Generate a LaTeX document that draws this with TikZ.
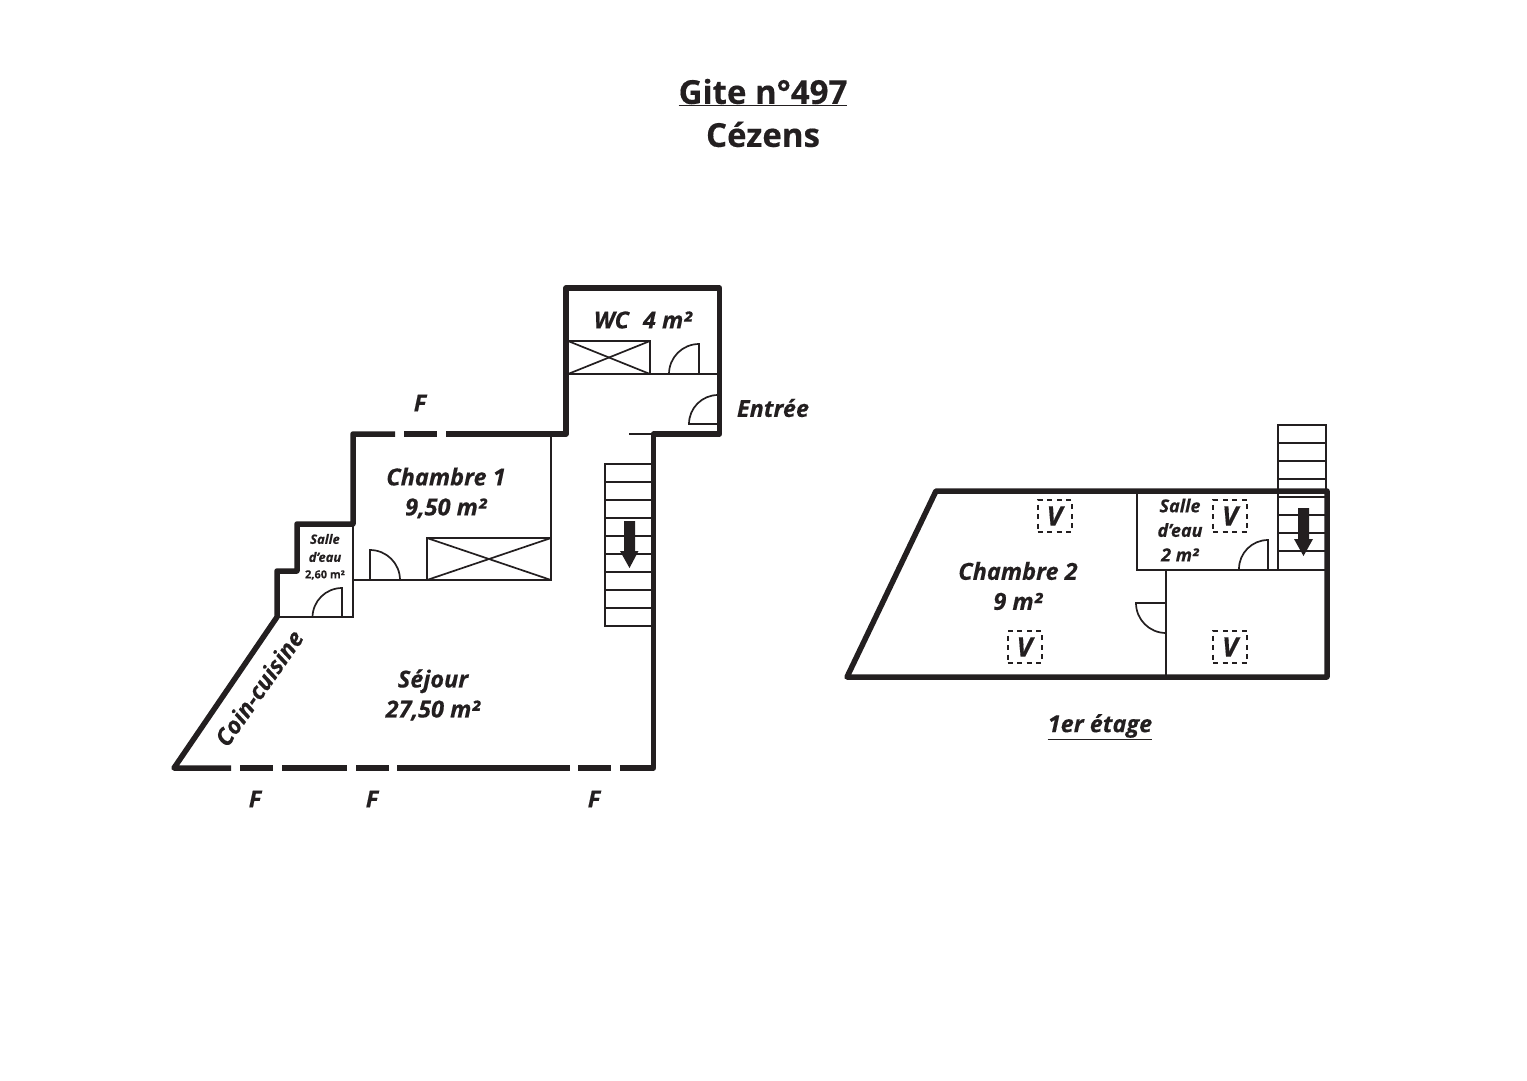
\documentclass[tikz,border=0pt]{standalone}
\usepackage{xcolor}
\usepackage{fontspec}
\setmainfont[BoldFeatures={FakeBold=0.35},BoldItalicFeatures={FakeBold=0.35}]{Open Sans}
\usetikzlibrary{arrows.meta}
\definecolor{ink}{HTML}{231F20}
\tikzset{
  wall/.style={draw=ink,line width=5.5pt,line join=round},
  pane/.style={draw=ink,line width=5.5pt},
  thin/.style={draw=ink,line width=1.7pt},
  vbox/.style={draw=ink,line width=2pt,dash pattern=on 5pt off 4.5pt,minimum width=34pt,minimum height=32pt,inner sep=0pt,text=ink,font=\fontsize{27}{27}\selectfont\bfseries\itshape},
  room/.style={text=ink,align=center,inner sep=0pt,font=\fontsize{23.5}{30}\selectfont\bfseries\itshape},
  smallroom/.style={text=ink,align=center,inner sep=0pt,font=\fontsize{13}{18}\selectfont\bfseries\itshape},
  title/.style={text=ink,align=center,inner sep=0pt,font=\fontsize{33}{43}\selectfont\bfseries},
  downarrow/.style={fill=ink,draw=none}
}

\begin{document}
\begin{tikzpicture}[x=1pt,y=-1pt]
\useasboundingbox (0,0) rectangle (1527,1080);

\node[title] (title) at (763,113) {\underline{Gite n°497}\\Cézens} ;

\draw[wall] (231,768) -- (174,768) -- (277,617) -- (277,571) -- (297,571) -- (297,524) -- (353,524) -- (353,434) -- (395,434) ;
\draw[wall] (446,434) -- (566,434) -- (566,288) -- (719.5,288) -- (719.5,434) -- (653.5,434) -- (653.5,768) -- (620,768) ;
\draw[pane] (404,434) -- (437,434) ;
\draw[pane] (578,768) -- (611,768) ;
\draw[pane] (397,768) -- (570,768) ;
\draw[pane] (282,768) -- (347,768) ;
\draw[pane] (356,768) -- (389,768) ;
\draw[pane] (240,768) -- (273,768) ;

\draw[thin] (353,524) -- (353,617) -- (277,617) ;
\draw[thin] (342,617) -- (342,588) arc (270:180:29.5) ;
\draw[thin] (353,580) -- (551,580) -- (551,434) ;
\draw[thin] (370,580) -- (370,550) arc (270:360:30) ;
\draw[thin] (427,580) rectangle (551,538) ;
\draw[thin] (427,580) -- (551,538) ;
\draw[thin] (427,538) -- (551,580) ;

\draw[thin] (566,374) -- (718,374) ;
\draw[thin] (568,341) rectangle (650,374) ;
\draw[thin] (568,341) -- (650,374) ;
\draw[thin] (568,374) -- (650,341) ;
\draw[thin] (699,374) -- (699,344) arc (270:180:30) ;
\draw[thin] (717,424) -- (689,424) arc (180:270:29) ;
\draw[thin] (629,434) -- (654,434) ;

\draw[thin] (605,464) rectangle (652,626) ;
\draw[thin] (605,482) -- (652,482) ;
\draw[thin] (605,500) -- (652,500) ;
\draw[thin] (605,518) -- (652,518) ;
\draw[thin] (605,536) -- (652,536) ;
\draw[thin] (605,554) -- (652,554) ;
\draw[thin] (605,572) -- (652,572) ;
\draw[thin] (605,590) -- (652,590) ;
\draw[thin] (605,608) -- (652,608) ;
\fill[downarrow] (624,521) -- (635,521) -- (635,551) -- (638.5,551) -- (629.5,568) -- (620,551) -- (624,551) -- cycle ;

\node[room] (wc) at (643,320) {WC\hspace{14pt}4 m²} ;
\node[room] (entree) at (773,408) {Entrée} ;
\node[room] (f1) at (420,403) {F} ;
\node[room] (f2) at (255,799) {F} ;
\node[room] (f3) at (372,799) {F} ;
\node[room] (f4) at (594,799) {F} ;
\node[room] (chambre1) at (446,493) {Chambre 1\\9,50 m²} ;
\node[room] (sejour) at (433,695) {Séjour\\27,50 m²} ;
\node[room,rotate=55] (coin) at (259,688) {Coin-cuisine} ;
\node[smallroom] (salle1) at (325,548) {Salle\\d’eau} ;
\node[text=ink,inner sep=0pt,font=\fontsize{11}{12}\selectfont\bfseries] (surface1) at (325,575) {2,60 m²} ;

\draw[wall] (847,677) -- (936,491) -- (1327,491) -- (1327,677) -- cycle ;
\draw[thin] (1137,491) -- (1137,570) -- (1325,570) ;
\draw[thin] (1166,570) -- (1166,677) ;
\draw[thin] (1166,603) -- (1136,603) arc (180:90:30) ;
\draw[thin] (1268,570) -- (1268,540) arc (270:180:29) ;

\draw[thin] (1278,425) rectangle (1326,491) ;
\draw[thin] (1278,491) -- (1278,570) ;
\draw[thin] (1278,443) -- (1326,443) ;
\draw[thin] (1278,461) -- (1326,461) ;
\draw[thin] (1278,479) -- (1326,479) ;
\draw[thin] (1278,497) -- (1326,497) ;
\draw[thin] (1278,515) -- (1326,515) ;
\draw[thin] (1278,533) -- (1326,533) ;
\draw[thin] (1278,551) -- (1326,551) ;
\fill[downarrow] (1298,508) -- (1309,508) -- (1309,539) -- (1313,539) -- (1303.5,556) -- (1294,539) -- (1298,539) -- cycle ;

\node[vbox] (v1) at (1054.5,516) {V} ;
\node[vbox] (v2) at (1024.5,647) {V} ;
\node[vbox] (v3) at (1230,516) {V} ;
\node[vbox] (v4) at (1230,647) {V} ;

\node[room] (chambre2) at (1018,586) {Chambre 2\\9 m²} ;
\node[room,font=\fontsize{18}{24.5}\selectfont\bfseries\itshape] (salle2) at (1180,530) {Salle\\d’eau\\2 m²} ;
\node[room] (etage) at (1100,727) {\underline{1er étage}} ;

\end{tikzpicture}
\end{document}
